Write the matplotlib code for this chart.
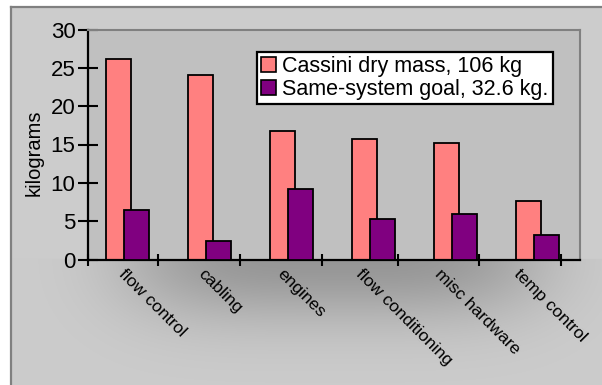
import numpy as np
import matplotlib
matplotlib.use('Agg')
import matplotlib.pyplot as plt
from matplotlib.patches import Patch

# ---- data ----
categories = ['flow control', 'cabling', 'engines', 'flow conditioning',
              'misc hardware', 'temp control']
cassini = [26.2, 24.1, 16.7, 15.7, 15.2, 7.6]
goal = [6.5, 2.35, 9.2, 5.25, 6.0, 3.2]
series_labels = ['Cassini dry mass, 106 kg', 'Same-system goal, 32.6 kg.']
yticks = [0, 5, 10, 15, 20, 25, 30]
ylabel = 'kilograms'

plt.rcParams['font.family'] = ['Liberation Sans', 'DejaVu Sans']

W, H = 602, 385
fig = plt.figure(figsize=(W / 100, H / 100), dpi=100)
fig.patch.set_facecolor('white')

# ---- chart area background with soft shadow under the category labels ----
bg = fig.add_axes([11 / W, 0, (W - 11) / W, (H - 7) / H])
xs = np.arange(11, W) + 0.5
ys = np.arange(7, H) + 0.5
X, Y = np.meshgrid(xs, ys)
dx = np.exp(-((X - 335) / 210) ** 4)
dy = np.where(Y < 259, 0.0, np.exp(-((Y - 259) / 62) ** 2))
shade = 0.80 - 0.21 * dx * dy
img = np.dstack([shade, shade, shade])
bg.imshow(img, extent=(11, W, H, 7), aspect='auto', interpolation='bilinear')
bg.set_xlim(11, W)
bg.set_ylim(H, 7)
bg.set_xticks([])
bg.set_yticks([])
for s in ['right', 'bottom']:
    bg.spines[s].set_visible(False)
for s in ['left', 'top']:
    bg.spines[s].set_color('#808080')
    bg.spines[s].set_linewidth(1.6)

# ---- plot area ----
ax = fig.add_axes([88 / W, (H - 259.5) / H, (580 - 88) / W, (259.5 - 29.5) / H])
ax.set_facecolor('#c0c0c0')
x = np.arange(len(categories))
ax.bar(x + 0.22, cassini, width=0.305, align='edge', color='#ff8080',
       edgecolor='black', linewidth=1.3, zorder=2)
ax.bar(x + 0.443, goal, width=0.305, align='edge', color='#800080',
       edgecolor='black', linewidth=1.3, zorder=3)
ax.set_xlim(0, 6)
ax.set_ylim(0, 30)

for s in ['left', 'bottom']:
    ax.spines[s].set_color('black')
    ax.spines[s].set_linewidth(1.6)
for s in ['top', 'right']:
    ax.spines[s].set_color('#808080')
    ax.spines[s].set_linewidth(1.5)

ax.set_yticks(yticks)
ax.set_yticklabels([str(v) for v in yticks])
ax.tick_params(axis='y', direction='inout', length=14, width=1.5,
               labelsize=16, pad=2, colors='black')

# category tick marks (slightly irregular like the reference)
tick_marks = [0, 0.85, 1.85, 2.85, 3.78, 4.77, 5.77]
ax.set_xticks(tick_marks)
ax.set_xticklabels([''] * len(tick_marks))
ax.tick_params(axis='x', direction='inout', length=9, width=1.5)

# category labels, rotated
label_pos = x * 0.9634 + 0.4695
for xp, lab in zip(label_pos, categories):
    ax.text(xp, -0.03, lab, transform=ax.get_xaxis_transform(),
            rotation=-45, rotation_mode='anchor', ha='left', va='top',
            fontsize=12.5, color='black')

fig.text(34 / W, 1 - 153 / H, ylabel, rotation=90, ha='center', va='center',
         fontsize=14.5)

# ---- legend ----
handles = [Patch(facecolor='#ff8080', edgecolor='black', linewidth=1.2),
           Patch(facecolor='#800080', edgecolor='black', linewidth=1.2)]
leg = fig.legend(handles, series_labels, loc='upper left',
                 bbox_to_anchor=(257 / W, 1 - 52 / H), borderaxespad=0,
                 fontsize=15.5, frameon=True, fancybox=False,
                 handlelength=0.7, handleheight=0.7, handletextpad=0.3,
                 borderpad=0.18, labelspacing=0.12)
leg.get_frame().set_edgecolor('black')
leg.get_frame().set_linewidth(1.6)
leg.get_frame().set_facecolor('white')
leg.get_frame().set_alpha(1)

fig.savefig('out.png', dpi=100, facecolor='white')
